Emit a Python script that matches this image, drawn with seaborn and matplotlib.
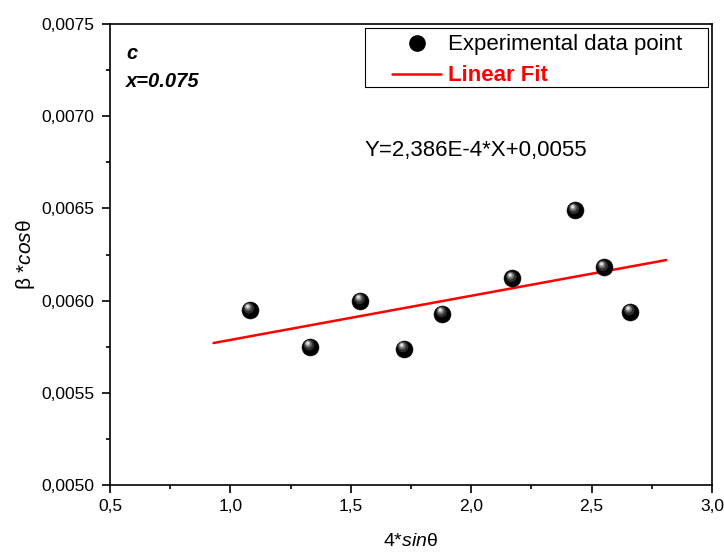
import matplotlib
matplotlib.use("Agg")
import matplotlib.pyplot as plt
import matplotlib.transforms as mtransforms
from matplotlib.lines import Line2D
from matplotlib.patches import Rectangle
from matplotlib.ticker import FixedLocator, FixedFormatter, MultipleLocator
import seaborn as sns
import pandas as pd

# ---- data ----
x_values = [1.08, 1.33, 1.54, 1.72, 1.88, 2.17, 2.43, 2.55, 2.66]
y_values = [0.00595, 0.00575, 0.00600, 0.00574, 0.00593, 0.00612, 0.00649, 0.00618, 0.00594]
fit_x = [0.93, 2.81]
fit_y = [0.00577, 0.00622]
x_ticks = [0.5, 1.0, 1.5, 2.0, 2.5, 3.0]
x_tick_labels = ["0,5", "1,0", "1,5", "2,0", "2,5", "3,0"]
y_ticks = [0.0050, 0.0055, 0.0060, 0.0065, 0.0070, 0.0075]
y_tick_labels = ["0,0050", "0,0055", "0,0060", "0,0065", "0,0070", "0,0075"]
equation = "Y=2,386E-4*X+0,0055"

sns.set_theme(style="ticks")
plt.rcParams["font.family"] = ["Liberation Sans", "DejaVu Sans"]
plt.rcParams["mathtext.fontset"] = "custom"
plt.rcParams["mathtext.rm"] = "Liberation Sans"
plt.rcParams["mathtext.it"] = "Liberation Sans:italic"
plt.rcParams["mathtext.bf"] = "Liberation Sans:bold"
plt.rcParams["text.color"] = "black"
plt.rcParams["axes.labelcolor"] = "black"
plt.rcParams["xtick.color"] = "black"
plt.rcParams["ytick.color"] = "black"

fig = plt.figure(figsize=(7.24, 5.52), dpi=100)
ax = fig.add_axes([110 / 724, 1 - 485 / 552, (712 - 110) / 724, (485 - 24) / 552])

df = pd.DataFrame({"x": x_values, "y": y_values})
fit_df = pd.DataFrame({"x": fit_x, "y": fit_y})

sns.lineplot(data=fit_df, x="x", y="y", ax=ax, color="#ff0000", linewidth=1.8, zorder=2)
sns.scatterplot(data=df, x="x", y="y", ax=ax, color="black", s=150, edgecolor="#111111",
                linewidth=0.4, zorder=3)
# glossy sphere highlight layers
for k, (sz, col, dx, dy) in enumerate([(60, "#2e2e2e", -0.6, 1.2),
                                        (28, "#6a6a6a", -1.1, 1.9),
                                        (12, "#a8a8a8", -1.4, 2.3),
                                        (4, "#e6e6e6", -1.5, 2.5)]):
    off = mtransforms.ScaledTranslation(dx / 72, dy / 72, fig.dpi_scale_trans)
    ax.scatter(x_values, y_values, s=sz, color=col, edgecolor="none", zorder=4 + k,
               transform=ax.transData + off)

ax.set_xlim(0.5, 3.0)
ax.set_ylim(0.0050, 0.0075)
ax.xaxis.set_major_locator(FixedLocator(x_ticks))
ax.xaxis.set_major_formatter(FixedFormatter(x_tick_labels))
ax.yaxis.set_major_locator(FixedLocator(y_ticks))
ax.yaxis.set_major_formatter(FixedFormatter(y_tick_labels))
ax.xaxis.set_minor_locator(MultipleLocator(0.25))
ax.yaxis.set_minor_locator(MultipleLocator(0.00025))
ax.tick_params(axis="both", which="major", direction="out", length=6, width=1.2,
               labelsize=12.5, colors="black", pad=4)
ax.tick_params(axis="both", which="minor", direction="out", length=3, width=1.2)
ax.tick_params(axis="y", which="major", pad=5)
for sp in ax.spines.values():
    sp.set_visible(True)
    sp.set_linewidth(1.2)
    sp.set_color("black")

ax.set_xlabel(r"$\mathit{4{*}sin}$θ", fontsize=14, labelpad=14)
ax.set_ylabel(r"β *$\mathit{cos}$θ", fontsize=15, labelpad=3)

ax.text(0.027, 0.937, "c", transform=ax.transAxes, fontsize=14.5, fontweight="bold",
        fontstyle="italic", va="center", ha="left")
ax.text(0.027, 0.876, "x=0.075", transform=ax.transAxes, fontsize=14.5, fontweight="bold",
        fontstyle="italic", va="center", ha="left")
ax.text(0.608, 0.726, equation, transform=ax.transAxes, fontsize=16, va="center",
        ha="center")

# legend frame (Origin-style box with wide margins)
ax.add_patch(Rectangle((255 / 602, (485 - 87) / 461), (708 - 365) / 602, 59 / 461,
                       transform=ax.transAxes, facecolor="white", edgecolor="black",
                       linewidth=0.8, zorder=9))
handles = [
    Line2D([], [], marker="o", linestyle="none", color="black", markersize=11),
    Line2D([], [], color="#ff0000", linewidth=1.8),
]
leg = ax.legend(handles, ["Experimental data point", "Linear Fit"], loc="upper left",
                bbox_to_anchor=((388 - 110) / 602, (485 - 30) / 461), fontsize=16,
                frameon=False, borderpad=0.2, handlelength=2.2, handletextpad=0.3,
                labelspacing=0.45, borderaxespad=0.0)
leg.set_zorder(10)
leg.get_texts()[0].set_color("black")
leg.get_texts()[1].set_color("#ff0000")
leg.get_texts()[1].set_fontweight("bold")

fig.savefig("out.png", dpi=100)
